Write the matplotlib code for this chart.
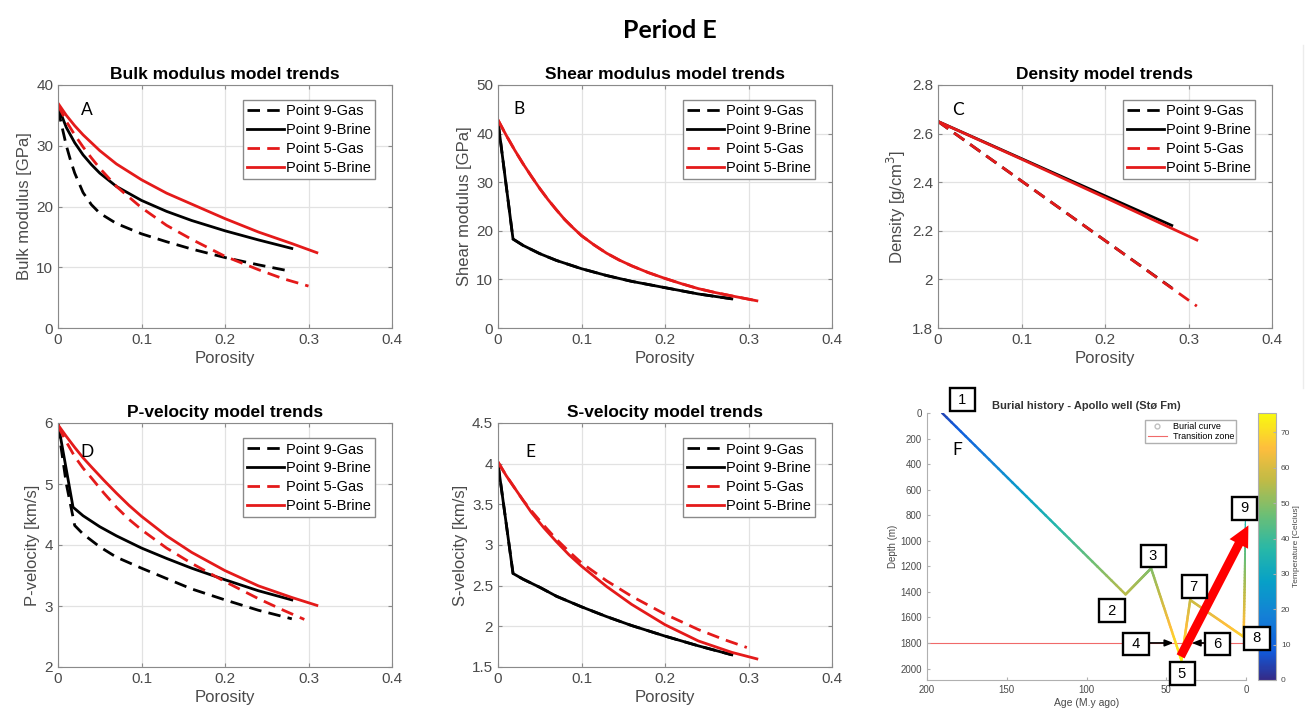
import numpy as np
import matplotlib
matplotlib.use("Agg")
import matplotlib.pyplot as plt
from matplotlib.collections import LineCollection
from matplotlib.colors import LinearSegmentedColormap, Normalize
from matplotlib.cm import ScalarMappable
from matplotlib.lines import Line2D
from matplotlib.ticker import FormatStrFormatter

plt.rcParams['font.family'] = ['Liberation Sans', 'DejaVu Sans']

W, H = 1307, 715
TXT = '#4a4a4a'
SPINE = '#8a8a8a'

labels = ['Point 9-Gas', 'Point 9-Brine', 'Point 5-Gas', 'Point 5-Brine']

# ---- Bulk modulus [GPa]
phi_k9g = [0, 0.005, 0.01, 0.015, 0.02, 0.03, 0.04, 0.05, 0.07, 0.1, 0.13, 0.16, 0.2, 0.24, 0.28]
k9g = [36.0, 33.0, 30.0, 27.6, 25.5, 22.3, 20.3, 18.9, 17.2, 15.5, 14.2, 13.0, 11.6, 10.4, 9.3]
phi_k9b = [0, 0.01, 0.02, 0.03, 0.04, 0.05, 0.07, 0.1, 0.13, 0.16, 0.2, 0.24, 0.28]
k9b = [36.5, 33.0, 30.5, 28.5, 26.9, 25.5, 23.3, 21.0, 19.2, 17.7, 16.0, 14.5, 13.1]
phi_k5g = [0, 0.01, 0.02, 0.03, 0.04, 0.05, 0.07, 0.1, 0.13, 0.16, 0.2, 0.24, 0.27, 0.30]
k5g = [36.7, 34.0, 31.8, 29.8, 28.0, 26.3, 23.3, 19.8, 16.9, 14.6, 11.8, 9.6, 8.1, 6.9]
phi_k5b = [0, 0.01, 0.02, 0.03, 0.05, 0.07, 0.1, 0.13, 0.16, 0.2, 0.24, 0.28, 0.31]
k5b = [37.0, 35.0, 33.3, 31.8, 29.2, 27.0, 24.4, 22.2, 20.4, 18.0, 15.8, 13.9, 12.4]

# ---- Shear modulus [GPa] (gas and brine curves coincide)
phi_mu9 = [0, 0.018, 0.03, 0.05, 0.07, 0.1, 0.13, 0.16, 0.2, 0.24, 0.28]
mu9 = [42.5, 18.3, 17.0, 15.3, 13.9, 12.2, 10.8, 9.6, 8.3, 7.0, 6.0]
phi_mu5 = [0, 0.01, 0.02, 0.03, 0.04, 0.05, 0.06, 0.07, 0.08, 0.09, 0.1, 0.115, 0.13,
           0.145, 0.16, 0.18, 0.2, 0.22, 0.24, 0.26, 0.28, 0.31]
mu5 = [42.8, 39.6, 36.6, 33.8, 31.2, 28.7, 26.4, 24.3, 22.3, 20.6, 19.0, 17.1, 15.4,
       14.0, 12.8, 11.4, 10.2, 9.1, 8.1, 7.3, 6.6, 5.6]

# ---- Density [g/cm3]
phi_rho9 = [0, 0.1, 0.2, 0.28]
rho9g = [2.65, 2.405, 2.16, 1.965]
rho9b = [2.65, 2.497, 2.344, 2.222]
phi_rho5 = [0, 0.1, 0.2, 0.31]
rho5g = [2.65, 2.405, 2.16, 1.89]
rho5b = [2.65, 2.495, 2.337, 2.162]

# ---- P-velocity [km/s]
phi_vp9g = [0, 0.01, 0.02, 0.03, 0.05, 0.07, 0.1, 0.13, 0.16, 0.2, 0.24, 0.28]
vp9g = [5.95, 5.0, 4.32, 4.18, 3.97, 3.80, 3.62, 3.45, 3.28, 3.10, 2.93, 2.79]
phi_vp9b = [0, 0.018, 0.03, 0.05, 0.07, 0.1, 0.13, 0.16, 0.2, 0.24, 0.28]
vp9b = [6.0, 4.62, 4.48, 4.30, 4.15, 3.95, 3.78, 3.62, 3.43, 3.25, 3.10]
phi_vp5g = [0, 0.01, 0.02, 0.03, 0.04, 0.055, 0.07, 0.085, 0.1, 0.13, 0.16, 0.2, 0.24, 0.27, 0.295]
vp5g = [5.95, 5.69, 5.45, 5.26, 5.10, 4.85, 4.62, 4.42, 4.25, 3.95, 3.70, 3.40, 3.12, 2.93, 2.78]
phi_vp5b = [0, 0.01, 0.02, 0.03, 0.04, 0.055, 0.07, 0.085, 0.1, 0.13, 0.16, 0.2, 0.24, 0.28, 0.31]
vp5b = [5.97, 5.78, 5.60, 5.43, 5.28, 5.06, 4.85, 4.65, 4.47, 4.15, 3.88, 3.58, 3.33, 3.14, 3.01]

# ---- S-velocity [km/s]
phi_vs9 = [0, 0.018, 0.03, 0.05, 0.07, 0.1, 0.13, 0.16, 0.2, 0.24, 0.28]
vs9 = [4.0, 2.65, 2.58, 2.48, 2.37, 2.24, 2.12, 2.01, 1.88, 1.76, 1.65]
phi_vs5g = [0, 0.01, 0.02, 0.03, 0.04, 0.055, 0.07, 0.085, 0.1, 0.13, 0.16, 0.2, 0.24, 0.27, 0.298]
vs5g = [4.02, 3.85, 3.70, 3.55, 3.42, 3.24, 3.07, 2.92, 2.78, 2.56, 2.37, 2.15, 1.96, 1.84, 1.74]
phi_vs5b = [0, 0.01, 0.02, 0.03, 0.04, 0.055, 0.07, 0.085, 0.1, 0.13, 0.16, 0.2, 0.24, 0.28, 0.31]
vs5b = [4.02, 3.85, 3.70, 3.55, 3.40, 3.21, 3.04, 2.88, 2.74, 2.49, 2.27, 2.02, 1.82, 1.68, 1.60]

# ---- Burial history (Apollo well, Stø Fm)
age = [190.5, 75.5, 59.5, 40.5, 35.0, 1.5, 0.0]
depth = [0, 1420, 1216, 1935, 1464, 1752, 850]
temp = [4, 56, 49, 75, 58, 69, 36]
transition_depth = 1800
point_ids = ['1', '2', '3', '4', '5', '6', '7', '8', '9']
point_age = [178, 84, 58, 69, 39.7, 17.6, 32.4, -6.9, 0.8]
point_depth = [-105, 1548, 1119, 1809, 2042, 1809, 1359, 1765, 745]

parula = LinearSegmentedColormap.from_list('parula', [
    (0.0, (0.208, 0.166, 0.529)),
    (0.11, (0.059, 0.360, 0.868)),
    (0.24, (0.078, 0.504, 0.838)),
    (0.37, (0.028, 0.630, 0.780)),
    (0.49, (0.154, 0.719, 0.658)),
    (0.62, (0.428, 0.748, 0.457)),
    (0.75, (0.757, 0.733, 0.273)),
    (0.87, (0.993, 0.744, 0.238)),
    (1.0, (0.976, 0.983, 0.054)),
])


def rect(l, t, r, b):
    return [l / W, 1 - b / H, (r - l) / W, (b - t) / H]


def trend_axes(fig, box, title, ylabel, ylim, yticks):
    ax = fig.add_axes(rect(*box))
    ax.set_xlim(0, 0.4)
    ax.set_xticks([0, 0.1, 0.2, 0.3, 0.4])
    ax.set_ylim(ylim)
    ax.set_yticks(yticks)
    ax.xaxis.set_major_formatter(FormatStrFormatter('%g'))
    ax.yaxis.set_major_formatter(FormatStrFormatter('%g'))
    ax.grid(True, color='#e2e2e2', lw=0.9)
    ax.set_axisbelow(True)
    ax.tick_params(direction='in', top=True, right=True, length=3,
                   labelsize=11, color=SPINE, labelcolor=TXT)
    for s in ax.spines.values():
        s.set_color(SPINE)
    ax.set_title(title, fontsize=12.5, fontweight='bold', pad=4)
    ax.set_xlabel('Porosity', fontsize=12, color=TXT, labelpad=3)
    ax.set_ylabel(ylabel, fontsize=12, color=TXT, labelpad=3)
    return ax


def draw_four(ax, curves):
    styles = [('k', '--'), ('k', '-'), ('#e41a1a', '--'), ('#e41a1a', '-')]
    for (x, y), (c, ls), lab in zip(curves, styles, labels):
        line, = ax.plot(x, y, color=c, ls=ls, lw=2.0, label=lab)
        if ls == '--':
            line.set_dashes((4.5, 2.6))
    ax.legend(loc='upper right', bbox_to_anchor=(0.949, 0.938), fontsize=10.5,
              handlelength=2.5, handletextpad=0.15, labelspacing=0.33,
              borderpad=0.3, borderaxespad=0, fancybox=False,
              edgecolor='#8a8a8a', framealpha=1)


fig = plt.figure(figsize=(W / 100, H / 100), dpi=100)

fig.text(670 / W, 1 - 30 / H, 'Period E', fontsize=18, fontweight='bold',
         family=['Lato', 'DejaVu Sans'], ha='center', va='center')
# faint border of the pasted panel image on the right
fig.add_artist(Line2D([1303 / W, 1303 / W], [1 - 45 / H, 1 - 388 / H], color='#ececec', lw=1))

axA = trend_axes(fig, (58, 85, 392, 328), 'Bulk modulus model trends',
                 'Bulk modulus [GPa]', (0, 40), [0, 10, 20, 30, 40])
draw_four(axA, [(phi_k9g, k9g), (phi_k9b, k9b), (phi_k5g, k5g), (phi_k5b, k5b)])

axB = trend_axes(fig, (498, 85, 832, 328), 'Shear modulus model trends',
                 'Shear modulus [GPa]', (0, 50), [0, 10, 20, 30, 40, 50])
draw_four(axB, [(phi_mu9, mu9), (phi_mu9, mu9), (phi_mu5, mu5), (phi_mu5, mu5)])

axC = trend_axes(fig, (938, 85, 1272, 328), 'Density model trends',
                 'Density [g/cm$^3$]', (1.8, 2.8), [1.8, 2, 2.2, 2.4, 2.6, 2.8])
draw_four(axC, [(phi_rho9, rho9g), (phi_rho9, rho9b), (phi_rho5, rho5g), (phi_rho5, rho5b)])

axD = trend_axes(fig, (58, 423, 392, 667), 'P-velocity model trends',
                 'P-velocity [km/s]', (2, 6), [2, 3, 4, 5, 6])
draw_four(axD, [(phi_vp9g, vp9g), (phi_vp9b, vp9b), (phi_vp5g, vp5g), (phi_vp5b, vp5b)])

axE = trend_axes(fig, (498, 423, 832, 667), 'S-velocity model trends',
                 'S-velocity [km/s]', (1.5, 4.5), [1.5, 2, 2.5, 3, 3.5, 4, 4.5])
draw_four(axE, [(phi_vs9, vs9), (phi_vs9, vs9), (phi_vs5g, vs5g), (phi_vs5b, vs5b)])

for letter, (x, y) in zip('ABCDEF', [(87, 110), (519, 109), (958, 110),
                                     (87, 452), (530, 452), (957, 450)]):
    fig.text(x / W, 1 - y / H, letter, fontsize=12.5, family=['Lato', 'DejaVu Sans'],
             ha='center', va='center')

# ---- panel F: burial history
axF = fig.add_axes(rect(927, 413, 1246, 680))
axF.set_zorder(3)
axF.patch.set_visible(False)
axF.set_xlim(200, 0)
axF.set_ylim(2090, 0)
axF.set_xticks([200, 150, 100, 50, 0])
axF.set_yticks(np.arange(0, 2001, 200))
for s in ['top', 'right']:
    axF.spines[s].set_visible(False)
for s in ['left', 'bottom']:
    axF.spines[s].set_color('#b0b0b0')
axF.tick_params(direction='in', length=2, labelsize=7, color='#b0b0b0', labelcolor=TXT)
axF.set_xlabel('Age (M.y ago)', fontsize=7.5, color=TXT, labelpad=2)
axF.set_ylabel('Depth (m)', fontsize=7, color=TXT, labelpad=2)
axF.set_title('Burial history - Apollo well (Stø Fm)', fontsize=8, fontweight='bold',
              color='#333333', pad=3)

norm = Normalize(0, 75.5)
# colour gradient along each segment of the burial curve
segs, vals = [], []
for i in range(len(age) - 1):
    t = np.linspace(0, 1, 40)
    xs = age[i] + (age[i + 1] - age[i]) * t
    ys = depth[i] + (depth[i + 1] - depth[i]) * t
    cs = temp[i] + (temp[i + 1] - temp[i]) * t
    pts = np.column_stack([xs, ys])
    segs.extend(np.stack([pts[:-1], pts[1:]], axis=1))
    vals.extend((cs[:-1] + cs[1:]) / 2)
lc = LineCollection(segs, cmap=parula, norm=norm, linewidths=1.8, capstyle='round')
lc.set_array(np.array(vals))
axF.add_collection(lc)

axF.axhline(transition_depth, color='#f06a6a', lw=0.8, zorder=1)

axF.legend(handles=[
    Line2D([], [], marker='o', ls='none', mfc='none', mec='#c0c0c0', ms=3.5, label='Burial curve'),
    Line2D([], [], color='#f06a6a', lw=0.8, label='Transition zone')],
    loc='upper right', bbox_to_anchor=(0.97, 0.975), fontsize=6.5, handlelength=2.2,
    handletextpad=0.6, labelspacing=0.1, borderpad=0.25, borderaxespad=0,
    fancybox=False, edgecolor='#b0b0b0', framealpha=1)

axF.annotate('', xy=(-1.5, 880), xytext=(41, 1905), annotation_clip=False,
             arrowprops=dict(arrowstyle='simple,head_width=0.75,head_length=0.75,tail_width=0.32',
                             mutation_scale=20, fc='#ff0000', ec='#ff0000', lw=0, shrinkA=0, shrinkB=0))
axF.annotate('', xy=(45.5, 1800), xytext=(61, 1800),
             arrowprops=dict(arrowstyle='-|>,head_width=0.2,head_length=0.5', color='k', lw=1.2,
                             shrinkA=0, shrinkB=0))
axF.annotate('', xy=(34, 1800), xytext=(25.5, 1800),
             arrowprops=dict(arrowstyle='-|>,head_width=0.2,head_length=0.5', color='k', lw=1.2,
                             shrinkA=0, shrinkB=0))

for pid, x, y in zip(point_ids, point_age, point_depth):
    axF.text(x, y, ' ' + pid + ' ', fontsize=10.5, ha='center', va='center', clip_on=False,
             zorder=5, bbox=dict(boxstyle='square,pad=0.3', fc='white', ec='black', lw=1.7))

cax = fig.add_axes(rect(1258, 413, 1276, 680))
cb = fig.colorbar(ScalarMappable(norm=norm, cmap=parula), cax=cax)
cb.set_ticks(np.arange(0, 71, 10))
cb.outline.set_edgecolor('#b0b0b0')
cax.tick_params(direction='in', length=2, labelsize=6, color='#b0b0b0', labelcolor=TXT)
cb.set_label('Temperature [Celcius]', fontsize=6, color=TXT, labelpad=2)

fig.savefig('out.png', dpi=100)
